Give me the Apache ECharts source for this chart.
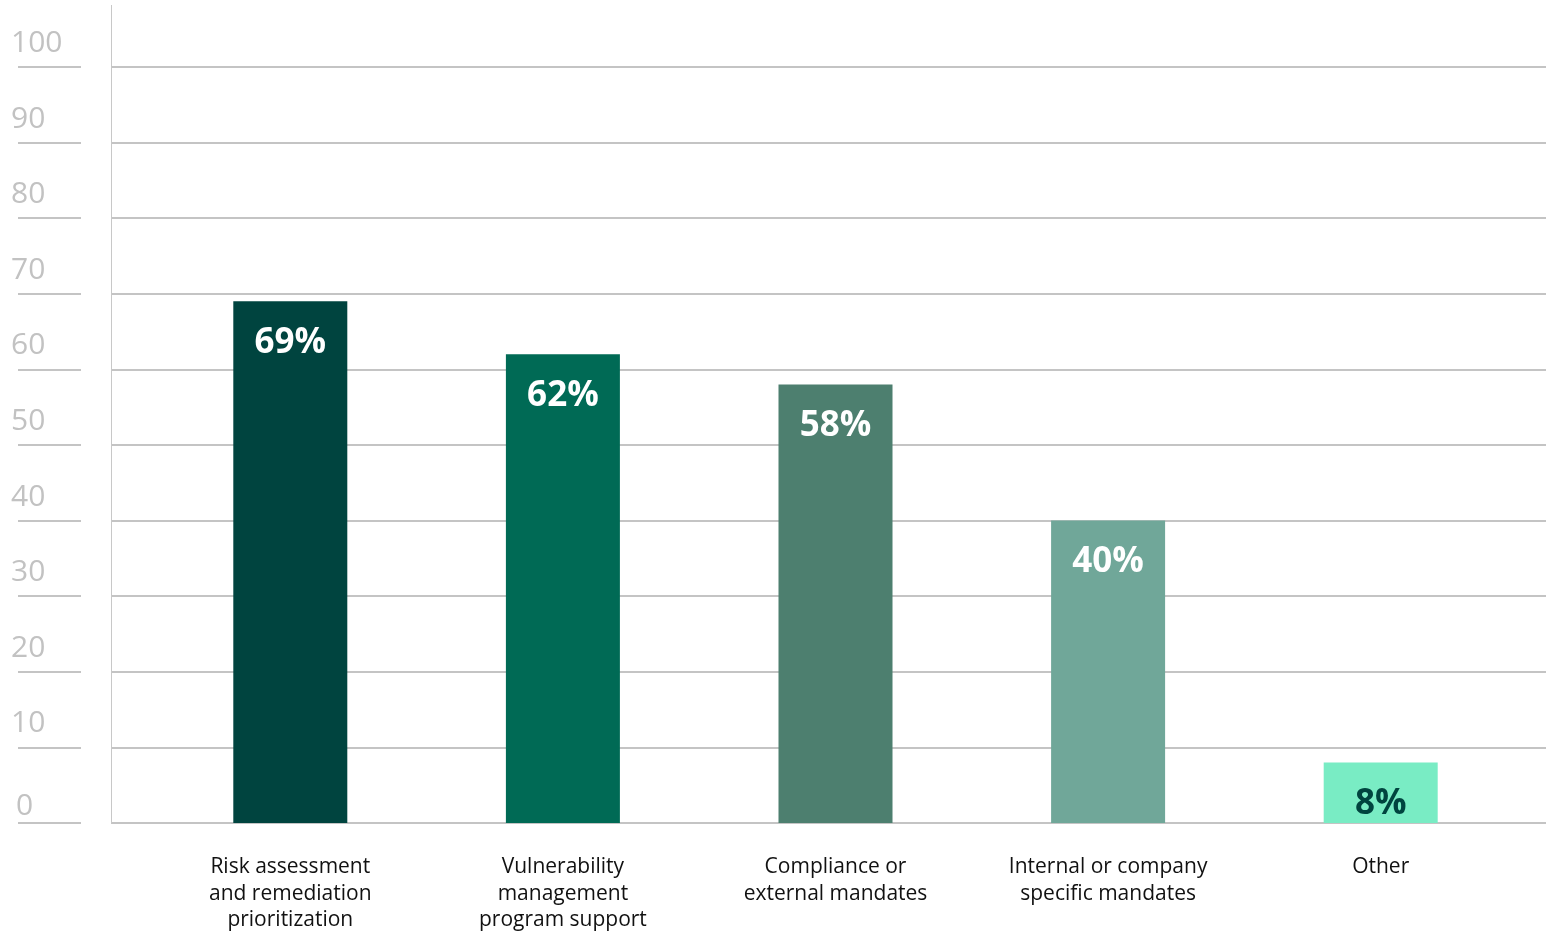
<!DOCTYPE html>
<html>
<head>
<meta charset="utf-8">
<script src="https://cdn.jsdelivr.net/npm/echarts@6/dist/echarts.min.js"></script>
<style>
  html, body { margin: 0; padding: 0; background: #ffffff; }
  #chart { width: 1546px; height: 935px; }
</style>
</head>
<body>
<div id="chart"></div>
<script>
// Survey answers: share of respondents per use case (%)
const categories = [
  'Risk assessment\nand remediation\nprioritization',
  'Vulnerability\nmanagement\nprogram support',
  'Compliance or\nexternal mandates',
  'Internal or company\nspecific mandates',
  'Other'
];
const values = [69, 62, 58, 40, 8];
const barColors = ['#00443f', '#006a55', '#4d7f6f', '#70a799', '#79ecc4'];
const labelColors = ['#ffffff', '#ffffff', '#ffffff', '#ffffff', '#00443f'];

const yMin = 0, yMax = 100, yStep = 10;
const gridGrey = '#c4c4c4';
const fontFamily = '"Open Sans", "Noto Sans", sans-serif';

const chart = echarts.init(document.getElementById('chart'), null, { renderer: 'canvas' });

const option = {
  backgroundColor: '#ffffff',
  animation: false,
  grid: [
    // 0: full-width gridlines
    { left: 111, right: 0, top: 67, bottom: 112 },
    // 1: bars
    { left: 154, right: 29, top: 67, bottom: 112 },
    // 2: tick labels with their short rules
    { left: 18, width: 63, top: 67, bottom: 112 }
  ],
  xAxis: [
    { gridIndex: 0, type: 'value', show: false, min: 0, max: 1 },
    {
      gridIndex: 1,
      type: 'category',
      data: categories,
      axisLine: { show: false },
      axisTick: { show: false },
      axisLabel: {
        interval: 0,
        margin: 31,
        color: '#111111',
        fontFamily: fontFamily,
        fontSize: 21,
        lineHeight: 26.5,
        align: 'center'
      }
    },
    { gridIndex: 2, type: 'value', show: false, min: 0, max: 1 }
  ],
  yAxis: [
    {
      gridIndex: 0,
      type: 'value',
      min: yMin, max: yMax, interval: yStep,
      axisLine: { show: true, lineStyle: { color: '#c8c8c8', width: 1 } },
      axisTick: { show: false },
      axisLabel: { show: false },
      splitLine: { show: true, lineStyle: { color: gridGrey, width: 2 } }
    },
    {
      gridIndex: 1,
      type: 'value',
      min: yMin, max: yMax, interval: yStep,
      show: false,
      splitLine: { show: false }
    },
    {
      gridIndex: 2,
      type: 'value',
      min: yMin, max: yMax, interval: yStep,
      axisLine: { show: false },
      axisTick: { show: false },
      splitLine: { show: true, lineStyle: { color: gridGrey, width: 2 } },
      axisLabel: {
        margin: 7,
        align: 'left',
        verticalAlign: 'bottom',
        formatter: function (v) { return v === 0 ? '{z|0}' : '{n|' + v + '}'; },
        rich: {
          n: {
            color: '#c2c2c2', fontFamily: fontFamily, fontSize: 30,
            lineHeight: 30, padding: [0, 0, 17, 0]
          },
          z: {
            color: '#c2c2c2', fontFamily: fontFamily, fontSize: 30,
            lineHeight: 30, padding: [0, 0, 4, 5]
          }
        }
      }
    }
  ],
  graphic: [
    // upward extension of the vertical axis rule above the top gridline
    {
      type: 'line',
      shape: { x1: 111.5, y1: 5, x2: 111.5, y2: 67 },
      style: { stroke: '#c8c8c8', lineWidth: 1 },
      silent: true
    }
  ],
  series: [
    {
      type: 'bar',
      xAxisIndex: 1,
      yAxisIndex: 1,
      barWidth: 114,
      data: values.map(function (v, i) {
        return {
          value: v,
          itemStyle: { color: barColors[i] },
          label: { color: labelColors[i] }
        };
      }),
      label: {
        show: true,
        position: 'insideTop',
        distance: 24,
        formatter: '{c}%',
        fontFamily: fontFamily,
        fontWeight: 'bold',
        fontSize: 35
      }
    }
  ]
};

chart.setOption(option);
</script>
</body>
</html>
